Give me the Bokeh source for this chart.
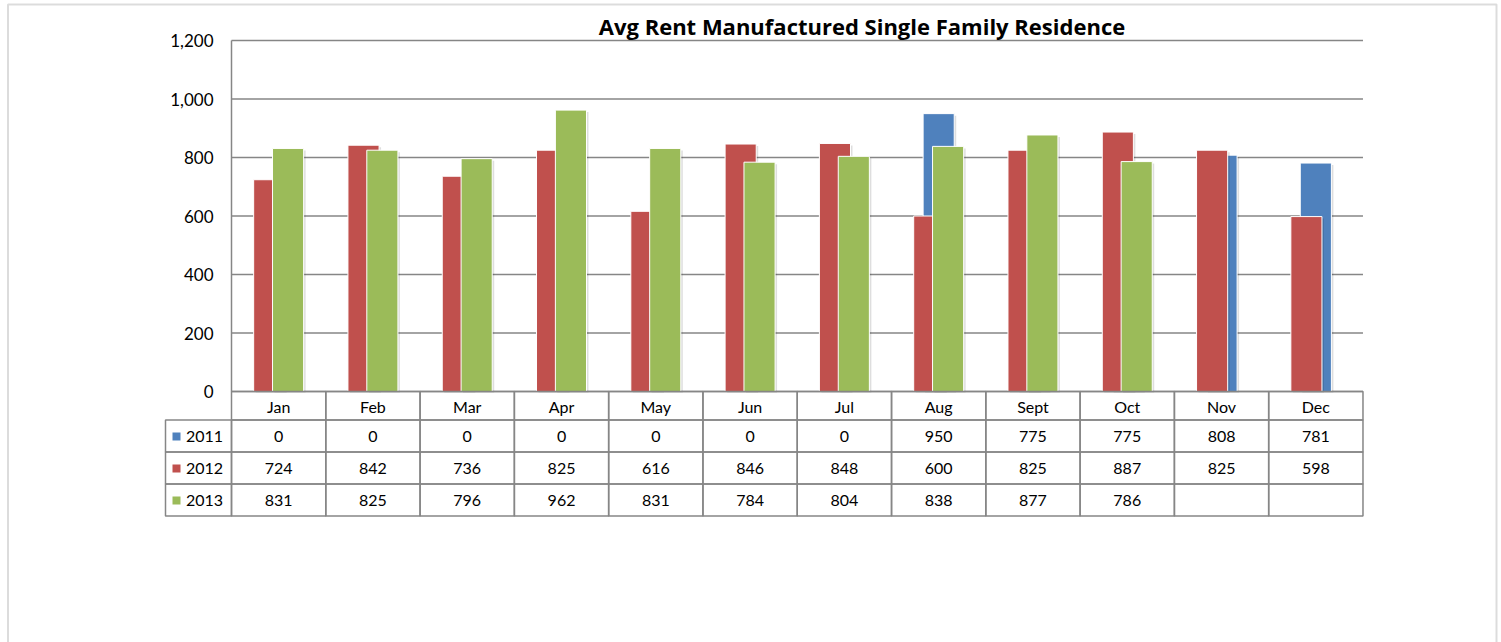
from bokeh.plotting import figure
from bokeh.models import Range1d, LinearAxis, FixedTicker, NumeralTickFormatter, BoxAnnotation
from bokeh.core.properties import value
from bokeh.embed import file_html
from bokeh.resources import INLINE

# ---------------- data ----------------
months = ["Jan", "Feb", "Mar", "Apr", "May", "Jun", "Jul", "Aug", "Sept", "Oct", "Nov", "Dec"]
series_names = ["2011", "2012", "2013"]
rent_2011 = [0, 0, 0, 0, 0, 0, 0, 950, 775, 775, 808, 781]
rent_2012 = [724, 842, 736, 825, 616, 846, 848, 600, 825, 887, 825, 598]
rent_2013 = [831, 825, 796, 962, 831, 784, 804, 838, 877, 786, None, None]
colors = ["#4F81BD", "#C0504D", "#9BBB59"]
y_ticks = [0, 200, 400, 600, 800, 1000, 1200]
title_text = "Avg Rent Manufactured Single Family Residence"

# ---------------- layout ----------------
W, H = 1501, 642
X0, CAT = 231.0, 94.29     # pixel of first category edge, pixels per category
Y0, PXU = 391.0, 0.2925    # pixel of value 0, pixels per value unit
FONT = "Lato"
GRID = "#868686"


def dx(px):
    return (px - X0) / CAT


def dy(py):
    return (Y0 - py) / PXU


n = len(months)
p = figure(width=W, height=H, x_range=Range1d(dx(0), dx(W)), y_range=Range1d(dy(H), dy(0)),
           output_backend="svg", toolbar_location=None, tools="",
           x_axis_location=None, y_axis_location=None, min_border=0,
           outline_line_color=None, background_fill_color="white", border_fill_color="white")
p.grid.visible = False

# horizontal grid lines within the plot area
p.segment(x0=[0] * len(y_ticks), x1=[n] * len(y_ticks), y0=y_ticks, y1=y_ticks,
          line_color=GRID, line_width=1.5)

# y axis
ax = LinearAxis(fixed_location=0, bounds=(y_ticks[0], y_ticks[-1]),
                ticker=FixedTicker(ticks=y_ticks), formatter=NumeralTickFormatter(format="0,0"))
ax.axis_line_color = GRID
ax.axis_line_width = 1.5
ax.major_tick_line_color = None
ax.minor_tick_line_color = None
ax.major_tick_out = 0
ax.major_tick_in = 0
ax.major_label_standoff = 18
ax.major_label_text_font = FONT
ax.major_label_text_font_size = "17px"
ax.major_label_text_color = "black"
p.add_layout(ax, "left")

# bars: 2011 behind (centred), 2012 left, 2013 right in front
series = [rent_2011, rent_2012, rent_2013]
offsets = [0.0, -0.1, 0.1]
bar_w = 0.33
nan = float("nan")
for vals, off, col in zip(series, offsets, colors):
    xs = [i + 0.5 + off for i in range(n)]
    tops = [v if v is not None else nan for v in vals]
    # soft shadow
    p.vbar(x=[x + 2.0 / CAT for x in xs], top=[t - 2.0 / PXU if t == t and t > 0 else nan for t in tops],
           bottom=dy(Y0 + 1), width=bar_w, fill_color="black", fill_alpha=0.13, line_color=None)
    p.vbar(x=xs, top=tops, bottom=0, width=bar_w, fill_color=col, line_color="white", line_width=1)

# ---------------- data table ----------------
row_edges_px = [391, 419.5, 451.5, 483.5, 515.5]
legend_left_px = 165
tline = dict(fill_color=None, line_color=GRID, line_width=1.5)
TS = "16px"

# header (months) row
p.quad(left=list(range(n)), right=[i + 1 for i in range(n)],
       top=dy(row_edges_px[0]), bottom=dy(row_edges_px[1]), **tline)
p.text(x=[i + 0.5 for i in range(n)], y=dy((row_edges_px[0] + row_edges_px[1]) / 2 + 0.5), text=months,
       text_align="center", text_baseline="middle", text_font=value(FONT),
       text_font_size=TS, text_color="black")

for r, (name, vals, col) in enumerate(zip(series_names, series, colors)):
    top_px, bot_px = row_edges_px[r + 1], row_edges_px[r + 2]
    mid = dy((top_px + bot_px) / 2 + 0.5)
    p.quad(left=list(range(n)), right=[i + 1 for i in range(n)], top=dy(top_px), bottom=dy(bot_px), **tline)
    p.quad(left=[dx(legend_left_px)], right=[0], top=dy(top_px), bottom=dy(bot_px), **tline)
    p.text(x=[i + 0.5 for i in range(n)], y=mid, text=["" if v is None else str(v) for v in vals],
           text_align="center", text_baseline="middle", text_font=value(FONT),
           text_font_size=TS, text_color="black")
    p.scatter(x=[dx(176)], y=[mid], marker="square", size=8, fill_color=col, line_color=None)
    p.text(x=[dx(185.5)], y=[mid], text=[name], text_align="left", text_baseline="middle",
           text_font=value(FONT), text_font_size=TS, text_color="black")

# title
p.text(x=[dx(861.5)], y=[dy(25)], text=[title_text], text_align="center", text_baseline="middle",
       text_font=value("Open Sans"), text_font_style="bold", text_font_size="22px", text_color="black")

# outer frame border
p.add_layout(BoxAnnotation(left=dx(7.5), right=dx(1496), top=dy(4), bottom=dy(H + 40),
                           fill_color=None, line_color="#8a8a8a", line_width=2))

open("out.html", "w").write(file_html(p, INLINE))
